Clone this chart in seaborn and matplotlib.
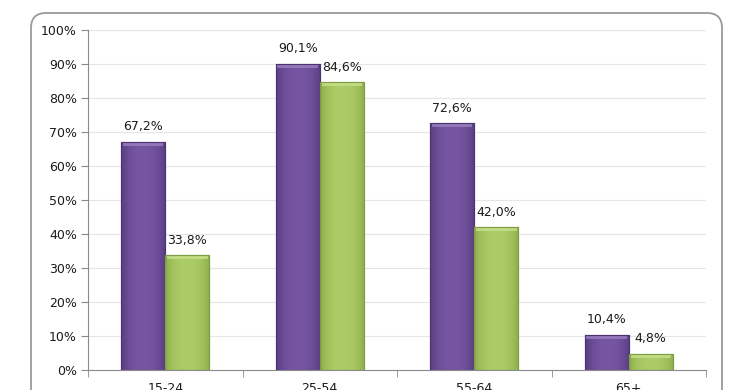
import matplotlib
matplotlib.use("Agg")
import matplotlib.pyplot as plt
import seaborn as sns
import pandas as pd
import numpy as np
from matplotlib.patches import FancyBboxPatch, Rectangle
from matplotlib.colors import to_rgb
from matplotlib.ticker import FixedLocator, PercentFormatter

categories = ["15-24", "25-54", "55-64", "65+"]
series_names = ["A", "B"]
values_a = [67.2, 90.1, 72.6, 10.4]
values_b = [33.8, 84.6, 42.0, 4.8]
y_ticks = [0, 10, 20, 30, 40, 50, 60, 70, 80, 90, 100]

df = pd.DataFrame({
    "cat": categories * 2,
    "series": [series_names[0]] * 4 + [series_names[1]] * 4,
    "val": values_a + values_b,
})

sns.set_style("white")
plt.rcParams["font.family"] = ["DejaVu Sans"]

fig = plt.figure(figsize=(7.4, 3.9), dpi=100)
# rounded frame (inches)
frame = FancyBboxPatch((0.31, -0.5), 7.22 - 0.31, 3.77 + 0.5,
                       boxstyle="round,pad=0,rounding_size=0.15",
                       transform=fig.dpi_scale_trans, facecolor="white",
                       edgecolor="#9a9a9a", linewidth=1.3, zorder=-10)
fig.patches.append(frame)

ax = fig.add_axes([88 / 740, 20 / 390, (706 - 88) / 740, 340 / 390])
ax.set_zorder(5)
ax.set_facecolor("none")
colors = ["#6a4b94", "#a5c760"]
centers = ["#7655a2", "#abcc66"]
sides = ["#583e82", "#8dae4b"]
tops = ["#9a80c0", "#c8e08c"]
edges = ["#4b3470", "#7f9c42"]
sns.barplot(data=df, x="cat", y="val", hue="series", order=categories,
            hue_order=series_names, palette=colors, width=0.57, ax=ax,
            legend=False, saturation=1)

ax.set_ylim(0, 100)
ax.set_xlim(-0.5, 3.5)

for i, cont in enumerate(ax.containers):
    c_mid = np.array(to_rgb(centers[i]))
    c_side = np.array(to_rgb(sides[i]))
    t = np.linspace(-1, 1, 40)
    w = np.abs(t) ** 2.5
    grad = (1 - w)[:, None] * c_mid + w[:, None] * c_side
    img = grad[None, :, :]
    for p in cont:
        x0, y0 = p.get_x(), p.get_y()
        bw, bh = p.get_width(), p.get_height()
        p.set_edgecolor(edges[i])
        p.set_linewidth(0.8)
        im = ax.imshow(img, extent=(x0, x0 + bw, y0, y0 + bh), aspect="auto",
                       zorder=p.get_zorder() + 0.1, interpolation="bilinear")
        im.set_clip_path(p)
        ax.add_patch(Rectangle((x0 + bw * 0.04, y0 + bh - 1.2), bw * 0.92, 1.0,
                               facecolor=tops[i], edgecolor="none", alpha=0.8,
                               zorder=p.get_zorder() + 0.2))
        ax.add_patch(Rectangle((x0, y0), bw, bh, facecolor="none",
                               edgecolor=edges[i], linewidth=0.8,
                               zorder=p.get_zorder() + 0.3))
    ax.bar_label(cont, labels=[f"{v:.1f}%".replace(".", ",") for v in cont.datavalues],
                 padding=6, fontsize=9, color="#1a1a1a")

ax.set_ylim(0, 100)
ax.set_xlim(-0.5, 3.5)
ax.yaxis.set_major_locator(FixedLocator(y_ticks))
ax.yaxis.set_major_formatter(PercentFormatter(decimals=0))
ax.grid(axis="y", color="#e6e6e6", linewidth=0.8)
ax.set_axisbelow(True)
for s in ["top", "right"]:
    ax.spines[s].set_visible(False)
ax.spines["left"].set_color("#8a8a8a")
ax.spines["bottom"].set_color("#8a8a8a")
ax.tick_params(axis="y", length=5, color="#8a8a8a", labelsize=9, pad=3, labelcolor="#1a1a1a", left=True)
ax.set_xticks([-0.5, 0.5, 1.5, 2.5, 3.5], minor=True)
ax.tick_params(axis="x", which="minor", length=5, color="#8a8a8a", bottom=True)
ax.tick_params(axis="x", which="major", length=0, labelsize=9, pad=9, labelcolor="#1a1a1a")
ax.set_xlabel("")
ax.set_ylabel("")

fig.savefig("out.png", dpi=100)
